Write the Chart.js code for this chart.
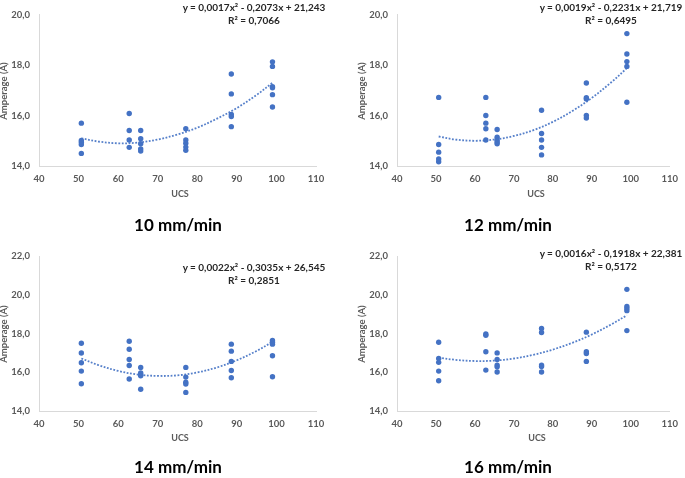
<!DOCTYPE html>
<html>
<head>
<meta charset="utf-8">
<script src="https://cdn.jsdelivr.net/npm/chart.js@4.4.1/dist/chart.umd.min.js"></script>
<style>
  html, body { margin: 0; padding: 0; background: #fff; }
  #wrap { position: relative; width: 685px; height: 478px; overflow: hidden; font-family: Lato, "Open Sans", sans-serif; }
  canvas { position: absolute; }
  .eq { position: absolute; width: 160px; text-align: center; font-weight: bold; font-size: 10px; line-height: 13px; color: #262626; white-space: nowrap; }
  .cap { position: absolute; width: 160px; text-align: center; font-weight: bold; font-size: 17px; line-height: 20px; color: #000; white-space: nowrap; }
  .xt { position: absolute; width: 60px; text-align: center; font-weight: bold; font-size: 9px; line-height: 12px; color: #595959; }
  .yt { position: absolute; width: 120px; height: 12px; text-align: center; font-weight: bold; font-size: 9.5px; line-height: 12px; color: #595959; transform: rotate(-90deg); transform-origin: 50% 50%; white-space: nowrap; }
</style>
</head>
<body>
<div id="wrap">
  <canvas id="c1" width="340" height="240" style="left:0;top:0"></canvas>
  <canvas id="c2" width="345" height="240" style="left:340px;top:0"></canvas>
  <canvas id="c3" width="340" height="238" style="left:0;top:240px"></canvas>
  <canvas id="c4" width="345" height="238" style="left:340px;top:240px"></canvas>
</div>
<script>
// ---- data ----
const ucsGroups = [50.7, 62.8, 65.7, 77.1, 88.6, 99.0];

const amp10 = [
  [15.70, 15.01, 14.94, 14.85, 14.50],
  [16.08, 15.41, 15.03, 14.74],
  [15.41, 15.08, 14.88, 14.68, 14.59],
  [15.48, 15.03, 14.90, 14.75, 14.62],
  [17.65, 16.86, 16.04, 15.96, 15.56],
  [18.13, 17.95, 17.14, 17.10, 16.83, 16.34]
];
const amp12 = [
  [16.72, 14.85, 14.55, 14.28, 14.17],
  [16.72, 16.00, 15.70, 15.48, 15.03],
  [15.45, 15.14, 15.03, 14.95, 14.88],
  [16.21, 15.29, 15.03, 14.74, 14.44],
  [17.29, 16.71, 16.66, 16.00, 15.90],
  [19.25, 18.44, 18.14, 17.95, 16.53]
];
const amp14 = [
  [17.50, 16.99, 16.49, 16.06, 15.41],
  [17.60, 17.19, 16.66, 16.35, 15.65],
  [16.25, 15.97, 15.87, 15.82, 15.12],
  [16.25, 15.75, 15.49, 15.39, 14.96],
  [17.45, 17.09, 16.56, 16.09, 15.72],
  [17.64, 17.55, 17.45, 16.85, 15.77]
];
const amp16 = [
  [17.55, 16.71, 16.51, 16.06, 15.56],
  [17.98, 17.91, 17.06, 16.11],
  [17.00, 16.66, 16.37, 16.28, 16.01],
  [18.26, 18.05, 16.37, 16.30, 16.01],
  [18.07, 17.06, 16.97, 16.56],
  [20.28, 19.39, 19.29, 19.18, 18.15]
];

// trendline values
const trendUcs = [50.7, 55, 60, 65, 70, 75, 80, 85, 90, 95, 99];
const trend10 = [15.10, 14.97, 14.90, 14.93, 15.05, 15.25, 15.52, 15.88, 16.30, 16.82, 17.30];
const trend12 = [15.17, 15.05, 15.00, 15.05, 15.19, 15.42, 15.75, 16.18, 16.70, 17.32, 17.88];
const trend14 = [16.71, 16.37, 16.07, 15.88, 15.81, 15.84, 15.99, 16.25, 16.62, 17.10, 17.57];
const trend16 = [16.76, 16.64, 16.58, 16.60, 16.71, 16.90, 17.17, 17.52, 17.95, 18.47, 18.94];

const xTickLabels = ["40", "50", "60", "70", "80", "90", "100", "110"];
const yTickLabelsTop = ["14,0", "16,0", "18,0", "20,0"];
const yTickLabelsBottom = ["14,0", "16,0", "18,0", "20,0", "22,0"];

const panelTitles = ["10 mm/min", "12 mm/min", "14 mm/min", "16 mm/min"];
const equations = [
  "y = 0,0017x² - 0,2073x + 21,243",
  "y = 0,0019x² - 0,2231x + 21,719",
  "y = 0,0022x² - 0,3035x + 26,545",
  "y = 0,0016x² - 0,1918x + 22,381"
];
const r2Labels = ["R² = 0,7066", "R² = 0,6495", "R² = 0,2851", "R² = 0,5172"];
const xTitle = "UCS";
const yTitle = "Amperage (A)";

// ---- drawing ----
const BLUE = '#4472C4';
const FONT = 'Lato, "Open Sans", sans-serif';

function makePoints(groups) {
  const pts = [];
  groups.forEach((vals, i) => vals.forEach(v => pts.push({ x: ucsGroups[i], y: v })));
  return pts;
}

function makePanel(id, amps, trend, yMax, yLabels, geo) {
  const canvas = document.getElementById(id);
  const W = canvas.width, H = canvas.height;
  const xAxisH = 34;
  new Chart(canvas, {
    data: {
      datasets: [
        {
          type: 'scatter',
          data: makePoints(amps),
          backgroundColor: BLUE,
          borderColor: BLUE,
          borderWidth: 0,
          pointRadius: 2.7,
          pointHoverRadius: 2.7,
          order: 1
        },
        {
          type: 'line',
          data: trendUcs.map((x, i) => ({ x: x, y: trend[i] })),
          borderColor: 'rgba(68,114,196,0.9)',
          borderWidth: 1.8,
          borderDash: [1.8, 1.6],
          pointRadius: 0,
          tension: 0.35,
          fill: false,
          order: 0
        }
      ]
    },
    options: {
      responsive: false,
      animation: false,
      devicePixelRatio: 1,
      layout: { padding: { left: 0, top: geo.top, right: W - geo.right, bottom: H - geo.bottom - xAxisH } },
      plugins: { legend: { display: false }, tooltip: { enabled: false } },
      scales: {
        x: {
          type: 'linear',
          min: 40, max: 110,
          afterFit: s => { s.height = xAxisH; },
          afterBuildTicks: s => { s.ticks = xTickLabels.map(t => ({ value: Number(t) })); },
          grid: { display: false, drawTicks: false },
          border: { display: true, color: '#D9D9D9', width: 1 },
          ticks: {
            padding: 7,
            color: '#595959',
            font: { family: FONT, size: 9.5, weight: 'bold' },
            callback: (v, i) => xTickLabels[i]
          }
        },
        y: {
          type: 'linear',
          min: 14, max: yMax,
          afterFit: s => { s.width = geo.left; },
          afterBuildTicks: s => { s.ticks = yLabels.map(t => ({ value: Number(t.replace(',', '.')) })); },
          grid: { display: false, drawTicks: false },
          border: { display: true, color: '#D9D9D9', width: 1 },
          ticks: {
            padding: 9,
            color: '#595959',
            font: { family: FONT, size: 9.5, weight: 'bold' },
            callback: (v, i) => yLabels[i]
          }
        }
      }
    }
  });
}

makePanel('c1', amp10, trend10, 20, yTickLabelsTop, { left: 39, right: 316, top: 11, bottom: 166 });
makePanel('c2', amp12, trend12, 20, yTickLabelsTop, { left: 57, right: 334, top: 11, bottom: 166 });
makePanel('c3', amp14, trend14, 22, yTickLabelsBottom, { left: 39, right: 316, top: 16, bottom: 171 });
makePanel('c4', amp16, trend16, 22, yTickLabelsBottom, { left: 57, right: 335, top: 16, bottom: 171 });

// text: equations, axis titles, captions
const wrap = document.getElementById('wrap');
function addDiv(cls, text, left, top) {
  const d = document.createElement('div');
  d.className = cls;
  d.style.left = left + 'px';
  d.style.top = top + 'px';
  d.textContent = text;
  wrap.appendChild(d);
  return d;
}
const eqPos = [[254, 1], [611, 1], [254, 261], [611, 247]];
const capPos = [[178, 225], [508, 225], [178, 467], [508, 467]];
const xtPos = [[180, 194], [536, 194], [180, 438], [537, 438]];
const ytPos = [[4, 91], [362, 91], [4, 334], [362, 334]];
equations.forEach((eq, i) => {
  const d = addDiv('eq', '', eqPos[i][0] - 80, eqPos[i][1]);
  const l1 = document.createElement('div'); l1.textContent = eq;
  const l2 = document.createElement('div'); l2.textContent = r2Labels[i];
  d.appendChild(l1); d.appendChild(l2);
});
panelTitles.forEach((t, i) => addDiv('cap', t, capPos[i][0] - 80, capPos[i][1] - 10));
xtPos.forEach(p => addDiv('xt', xTitle, p[0] - 30, p[1] - 6));
ytPos.forEach(p => addDiv('yt', yTitle, p[0] - 60, p[1] - 6));
</script>
</body>
</html>
